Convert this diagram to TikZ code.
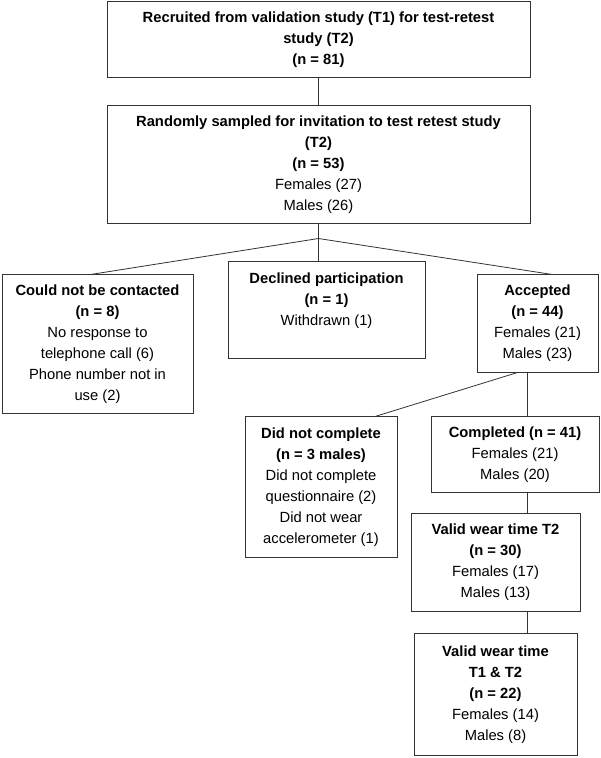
\documentclass[tikz,border=0pt]{standalone}
\usepackage{fontspec}
\setmainfont{Liberation Sans}
\usetikzlibrary{positioning}
\tikzset{
    stage/.style={rectangle, draw=black!80, line width=0.8pt, outer sep=0pt, align=center, inner sep=2pt, font=\fontsize{14.75}{21}\selectfont},
    link/.style={draw=black!80, line width=0.8pt}
}

\begin{document}
\begin{tikzpicture}[x=1pt, y=1pt]
    \useasboundingbox (0,0) rectangle (600,-758);

    % Top Nodes
    \node (recruited) [stage, minimum width=423pt, minimum height=76pt] at (318.5,-39.5) {\textbf{Recruited from validation study (T1) for test-retest} \\ \textbf{study (T2)} \\ \textbf{(n = 81)}};
    \node (sampled) [stage, below=28pt of recruited, minimum width=423pt, minimum height=118pt] {\textbf{Randomly sampled for invitation to test retest study} \\ \textbf{(T2)} \\ \textbf{(n = 53)} \\ Females (27) \\ Males (26)};

    % Middle Row Nodes
    \node (declined) [stage, below=38pt of sampled, xshift=8pt, minimum width=197pt, minimum height=97pt] {\textbf{Declined participation} \\ \textbf{(n = 1)} \\ Withdrawn (1) \\ \mbox{}};
    \node (contacted) [stage, below left=13pt and 35pt of declined.north west, minimum width=191pt, minimum height=139pt] {\textbf{Could not be contacted} \\ \textbf{(n = 8)} \\ No response to \\ telephone call (6) \\ Phone number not in \\ use (2)};
    \node (accepted) [stage, below right=13pt and 52pt of declined.north east, minimum width=121pt, minimum height=98pt] {\textbf{Accepted} \\ \textbf{(n = 44)} \\ Females (21) \\ Males (23)};

    % Lower Nodes
    \node (completed) [stage, below=44pt of accepted.south east, anchor=north east, xshift=1pt, minimum width=168pt, minimum height=76pt] {\textbf{Completed (n = 41)} \\ Females (21) \\ Males (20)};
    \node (notcomplete) [stage, left=34pt of completed.north west, anchor=north east, minimum width=152pt, minimum height=141pt] {\textbf{Did not complete} \\ \textbf{(n = 3 males)} \\ Did not complete \\ questionnaire (2) \\ Did not wear \\ accelerometer (1)};
    \node (validT2) [stage, below=21pt of completed, xshift=-19.5pt, minimum width=169pt, minimum height=98pt] {\textbf{Valid wear time T2} \\ \textbf{(n = 30)} \\ Females (17) \\ Males (13)};
    \node (validboth) [stage, below=22pt of validT2, minimum width=163pt, minimum height=122pt] {\textbf{Valid wear time} \\ \textbf{T1 \& T2} \\ \textbf{(n = 22)} \\ Females (14) \\ Males (8)};

    % Connectors
    \coordinate (split) at ([yshift=-15pt]sampled.south);
    \coordinate (spine) at ([xshift=-10pt]accepted.south);
    \draw [link] (recruited) -- (sampled);
    \draw [link] (sampled) -- (split);
    \draw [link] (split) -- ([xshift=-7pt]contacted.north);
    \draw [link] (split) -- (split |- declined.north);
    \draw [link] (split) -- ([xshift=15pt]accepted.north);
    \draw [link] ([xshift=-20pt]accepted.south) -- ([xshift=54pt]notcomplete.north);
    \draw [link] (spine) -- (spine |- completed.north);
    \draw [link] (completed.south -| spine) -- (validT2.north -| spine);
    \draw [link] (validT2.south -| spine) -- (validboth.north -| spine);

\end{tikzpicture}
\end{document}
